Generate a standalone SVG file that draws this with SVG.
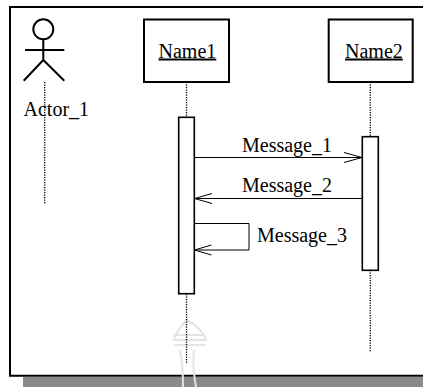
<svg xmlns="http://www.w3.org/2000/svg" width="423" height="387" viewBox="0 0 423 387">
<style>
.t{font-family:"Liberation Serif","Times New Roman",serif;font-size:20px;fill:#000}
.box{fill:#fff;stroke:#000;stroke-width:2}
.act{fill:#fff;stroke:#000;stroke-width:1.6}
.life{stroke:#000;stroke-width:1.3;stroke-dasharray:1.2 1.3;fill:none}
.msg{stroke:#000;stroke-width:1;fill:none}
.wm{stroke:#e4e4e4;stroke-width:2;fill:none}
</style>
<rect x="0" y="0" width="423" height="387" fill="#fff"/>
<rect x="23" y="377" width="400" height="10" fill="#8a8a8a"/>
<path d="M10 376 V7 H425 M9 375.7 H425" fill="none" stroke="#000" stroke-width="2"/>
<g id="watermark">
<path class="wm" d="M186.7 320 C181 326 176 333 173.5 340 H206 C203.5 333 198.5 326 186.7 320 Z M174 335 H205 M174.5 345 H205.5 M180 350 Q183 365 183 387 M194 350 Q192 365 196 387"/>
</g>
<g id="connectors">
<line class="life" x1="44.7" y1="82" x2="44.7" y2="204"/>
<line class="life" x1="186.5" y1="82" x2="186.5" y2="117"/>
<line class="life" x1="186.5" y1="294" x2="186.5" y2="364"/>
<line class="life" x1="370.3" y1="82" x2="370.3" y2="137"/>
<line class="life" x1="370.3" y1="270" x2="370.3" y2="352"/>
<path class="msg" d="M194.5 157.5 H362 M344 152.5 L362 157.5 L344 162.5"/>
<path class="msg" d="M362 198.5 H194.5 M212 193.5 L194.5 198.5 L212 203.5"/>
<path class="msg" d="M194.5 223.5 H249 V250 H194.5 M211.5 245 L194.5 250 L211.5 255"/>
</g>
<g id="actor_1">
<circle cx="43.3" cy="29.3" r="10" fill="none" stroke="#000" stroke-width="2"/>
<path d="M43.3 39.3 V60 M25 50 H64.3 M23.7 80.7 L43.3 60 L64.3 80.7" fill="none" stroke="#000" stroke-width="2"/>
<text class="t" x="23.5" y="116">Actor_1</text>
</g>
<g id="name1">
<rect class="box" x="144" y="19.5" width="85" height="62.5"/>
<text class="t" x="158.5" y="57.5" text-decoration="underline">Name1</text>
</g>
<g id="name2">
<rect class="box" x="328.7" y="19.5" width="84" height="62.5"/>
<text class="t" x="345" y="57.5" text-decoration="underline">Name2</text>
</g>
<g id="activation1">
<rect class="act" x="178.7" y="117.3" width="15.6" height="176.4"/>
</g>
<g id="activation2">
<rect class="act" x="362.3" y="136.7" width="16" height="133.6"/>
</g>
<g id="labels">
<text class="t" x="242" y="151.7">Message_1</text>
<text class="t" x="242" y="192.3">Message_2</text>
<text class="t" x="257" y="241.7">Message_3</text>
</g>
</svg>
